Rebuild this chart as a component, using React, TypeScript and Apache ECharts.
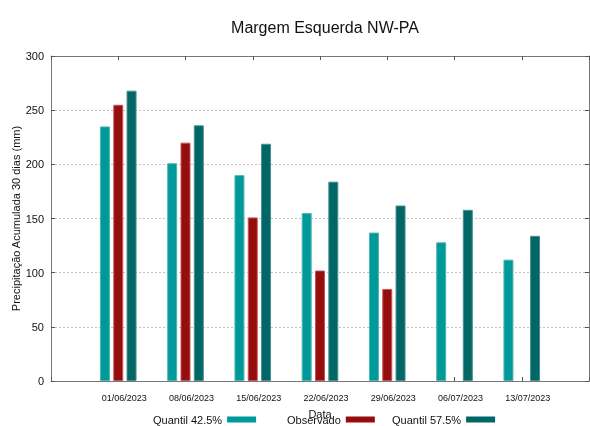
import React, { useEffect, useRef } from "react";
import * as echarts from "echarts";

const categories = ["01/06/2023", "08/06/2023", "15/06/2023", "22/06/2023", "29/06/2023", "06/07/2023", "13/07/2023"];
const quantil425 = [235, 201, 190, 155, 137, 128, 112];
const observado: (number | null)[] = [255, 220, 151, 102, 85, null, null];
const quantil575 = [268, 236, 219, 184, 162, 158, 134];
const yTicks = [0, 50, 100, 150, 200, 250, 300];
const seriesNames = ["Quantil 42.5%", "Observado", "Quantil 57.5%"];

const FONT = "Liberation Sans";

export default function App() {
  const ref = useRef<HTMLDivElement>(null);
  useEffect(() => {
    if (!ref.current) return;
    const chart = echarts.init(ref.current, undefined, { renderer: "svg" });
    const toPairs = (arr: (number | null)[]) => arr.map((v, i) => [i, v]);
    const barCommon = {
      type: "bar",
      barWidth: 10,
      barGap: "33%",
    };
    const frameLine = { show: true, onZero: false, lineStyle: { color: "#777", width: 1 } };
    const tick = { show: true, inside: true, length: 4, lineStyle: { color: "#555" } };
    const legendLefts = [153, 287, 392];
    chart.setOption({
      animation: false,
      textStyle: { fontFamily: FONT },
      title: {
        text: "Margem Esquerda NW-PA",
        left: 320,
        top: 14,
        textAlign: "center",
        textStyle: { fontFamily: FONT, fontSize: 16, fontWeight: "normal", color: "#111" },
      },
      legend: seriesNames.map((n, i) => ({
        top: 414,
        left: legendLefts[i],
        padding: 0,
        align: "right",
        itemWidth: 29,
        itemHeight: 6,
        itemGap: 6,
        icon: "rect",
        itemStyle: { borderWidth: 0 },
        textStyle: { fontFamily: FONT, fontSize: 11, color: "#111" },
        data: [n],
      })),
      grid: { left: 51, right: 1, top: 56, bottom: 45, show: false, outerBoundsMode: "none", containLabel: false },
      xAxis: [
        {
          type: "value",
          min: -1,
          max: 7,
          interval: 1,
          name: "Data",
          nameLocation: "middle",
          nameGap: 27,
          nameTextStyle: { fontFamily: FONT, fontSize: 11, color: "#111" },
          axisLine: frameLine,
          axisTick: tick,
          splitLine: { show: false },
          axisLabel: {
            fontFamily: FONT,
            fontSize: 9,
            color: "#111",
            margin: 12,
            padding: [0, 0, 0, 12],
            formatter: (v: number) => (v >= 0 && v < categories.length ? categories[v] : ""),
          },
        },
        {
          type: "value",
          position: "top",
          min: -1,
          max: 7,
          interval: 1,
          axisLine: frameLine,
          axisTick: tick,
          axisLabel: { show: false },
          splitLine: { show: false },
        },
      ],
      yAxis: [
        {
          type: "value",
          min: yTicks[0],
          max: yTicks[yTicks.length - 1],
          interval: 50,
          name: "Precipitação Acumulada 30 dias (mm)",
          nameLocation: "middle",
          nameGap: 30,
          nameMoveOverlap: false,
          nameTextStyle: { fontFamily: FONT, fontSize: 11, color: "#111" },
          axisLine: frameLine,
          axisTick: tick,
          axisLabel: { fontFamily: FONT, fontSize: 11, color: "#111", margin: 7 },
          splitLine: { show: true, lineStyle: { color: "#c4c4c4", type: [2, 2], width: 1 } },
        },
        {
          type: "value",
          position: "right",
          min: yTicks[0],
          max: yTicks[yTicks.length - 1],
          interval: 50,
          axisLine: frameLine,
          axisTick: tick,
          axisLabel: { show: false },
          splitLine: { show: false },
        },
      ],
      series: [
        {
          ...barCommon,
          name: seriesNames[0],
          data: toPairs(quantil425),
          itemStyle: { color: "#009999", borderColor: "#4fb5b5", borderWidth: 1 },
        },
        {
          ...barCommon,
          name: seriesNames[1],
          data: toPairs(observado),
          itemStyle: { color: "#960d0d", borderColor: "#c05a5a", borderWidth: 1 },
        },
        {
          ...barCommon,
          name: seriesNames[2],
          data: toPairs(quantil575),
          itemStyle: { color: "#006666", borderColor: "#4a9090", borderWidth: 1 },
        },
      ],
    });
    return () => chart.dispose();
  }, []);
  return <div ref={ref} style={{ position: "fixed", left: 0, top: 0, width: 590, height: 426 }} />;
}
